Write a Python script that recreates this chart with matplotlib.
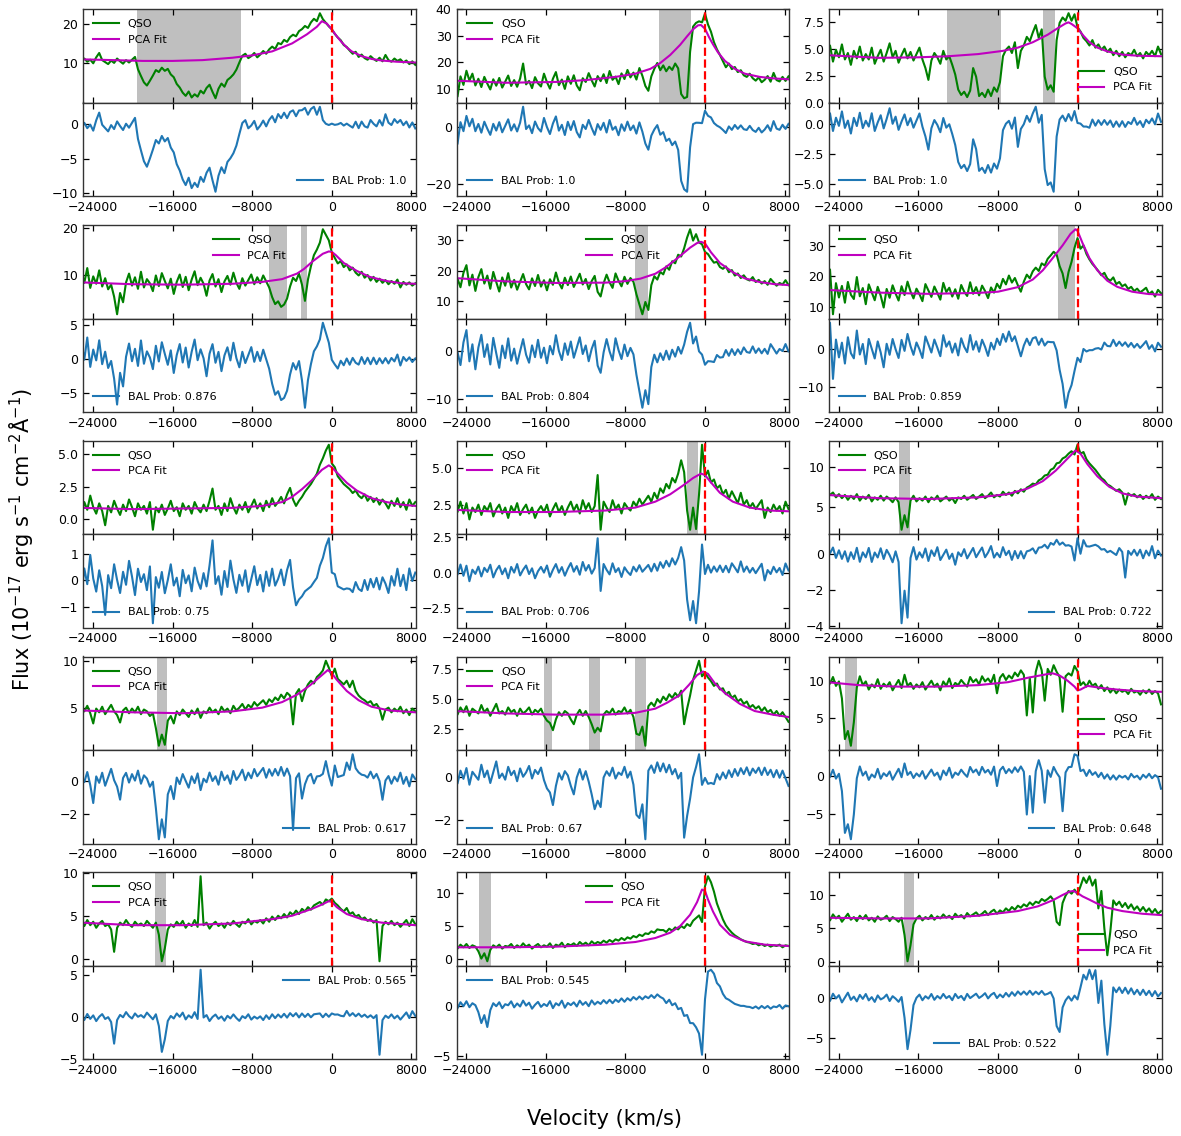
import numpy as np
import matplotlib
matplotlib.use("Agg")
import matplotlib.pyplot as plt

# Velocity grid of the spectra (km/s)
velocity = np.arange(-25200, 8401, 300)

# ---- Panel 1 ----
qso_1 = [10.6, 11.2, 10.4, 10.9, 10.0, 11.5, 12.6, 10.8, 10.3, 9.8,
         10.7, 10.1, 11.2, 10.5, 9.9, 10.8, 10.2, 10.9, 11.6, 8.5,
         6.8, 5.2, 4.4, 5.6, 6.9, 8.3, 7.8, 8.9, 8.1, 8.6,
         7.2, 6.5, 4.8, 3.9, 2.6, 1.8, 2.9, 1.4, 2.2, 1.6,
         3.1, 2.4, 3.8, 4.6, 2.8, 1.2, 3.6, 4.9, 4.1, 5.8,
         6.4, 7.2, 8.4, 10.2, 11.9, 12.4, 11.3, 11.8, 12.6, 11.5,
         12.2, 13.1, 12.4, 13.5, 14.2, 13.6, 15.1, 14.8, 15.9, 15.4,
         16.6, 17.2, 16.8, 18.1, 18.6, 19.4, 18.9, 20.3, 21.2, 20.6,
         22.6, 21.1, 20.2, 19.3, 18.6, 17.4, 16.5, 15.8, 14.6, 14.1,
         13.2, 12.4, 12.9, 11.6, 12.2, 11.3, 10.9, 11.8, 11.1, 10.6,
         11.4, 10.5, 12.1, 10.8, 10.4, 11.2, 10.6, 11.0, 10.2, 10.7,
         9.8, 10.5, 9.6]
fit_v_1 = [-25200, -22000, -19000, -16000, -13000, -10000, -8000, -6000, -4000, -2500,
           -1500, -1000, -500, 0, 500, 1000, 1500, 2000, 3000, 4000, 5000, 6500, 8400]
fit_1 = [11.0, 10.8, 10.6, 10.6, 10.8, 11.4, 12.0, 13.0, 15.0, 17.3,
         19.2, 20.6, 20.0, 18.5, 16.8, 15.3, 14.0, 13.0, 11.8, 11.1, 10.7, 10.4, 10.2]
bal_1 = [(-19600, -9100)]
prob_1 = "1.0"

# ---- Panel 2 ----
qso_2 = [12.5, 7.2, 14.8, 11.6, 16.9, 13.2, 15.8, 11.4, 13.9, 10.8,
         14.6, 12.1, 9.9, 13.7, 11.3, 14.2, 10.6, 12.8, 15.1, 11.2,
         13.4, 10.9, 14.0, 19.6, 11.8, 13.1, 10.4, 14.5, 12.2, 11.0,
         15.8, 12.6, 10.2, 13.9, 16.4, 11.5, 13.6, 10.1, 14.8, 12.0,
         15.2, 11.4, 9.6, 14.1, 12.7, 16.0, 13.3, 11.0, 14.9, 13.0,
         15.6, 12.3, 16.8, 13.5, 14.7, 11.9, 15.9, 13.8, 17.2, 14.4,
         16.2, 13.6, 17.9, 15.0, 11.2, 9.4, 14.8, 17.6, 19.8, 17.1,
         18.9, 16.7, 18.4, 17.2, 19.6, 17.8, 8.2, 6.6, 7.1, 24.0,
         33.4, 34.8, 35.4, 35.0, 38.3, 34.2, 31.5, 27.6, 24.9, 22.8,
         20.5, 18.2, 19.6, 17.5, 18.3, 16.4, 17.1, 15.2, 14.6, 15.8,
         14.1, 13.2, 14.4, 12.6, 13.5, 14.9, 12.8, 16.1, 13.4, 12.9,
         14.6, 13.1, 14.8]
fit_v_2 = [-25200, -20000, -15000, -12000, -9000, -7000, -5500, -4500, -3500, -2500,
           -1800, -1200, -700, -400, 0, 400, 800, 1300, 2000, 3000, 4000, 5500, 7000, 8400]
fit_2 = [13.2, 12.4, 12.7, 13.4, 14.6, 15.8, 17.6, 19.8, 22.8, 26.6,
         29.8, 32.4, 33.9, 34.0, 32.6, 29.5, 26.8, 23.8, 20.6, 17.6, 15.8, 14.6, 14.0, 13.7]
bal_2 = [(-4600, -1450)]
prob_2 = "1.0"

# ---- Panel 3 ----
qso_3 = [4.6, 5.3, 3.8, 4.9, 4.2, 5.4, 4.0, 4.6, 3.5, 4.8,
         4.1, 5.2, 3.9, 4.5, 4.0, 5.1, 3.6, 4.3, 4.9, 3.8,
         4.6, 5.5, 4.2, 4.8, 3.7, 4.4, 5.0, 4.1, 4.7, 3.9,
         4.5, 5.1, 4.0, 3.2, 2.1, 3.9, 4.6, 4.2, 3.6, 4.8,
         4.0, 4.3, 3.5, 2.6, 1.2, 0.7, 1.0, 0.5, 1.1, 3.2,
         2.4, 0.6, 0.9, 0.5, 1.2, 0.6, 1.4, 1.0, 1.9, 4.3,
         4.9, 5.2, 4.6, 5.6, 3.2, 4.8, 5.3, 6.1, 5.7, 6.5,
         7.2, 6.0, 6.8, 2.4, 1.2, 1.6, 1.0, 5.8, 7.4, 7.9,
         7.6, 8.3, 7.6, 8.2, 7.0, 6.6, 6.0, 5.7, 5.3, 5.8,
         5.1, 5.4, 4.9, 5.2, 4.7, 5.0, 4.4, 4.8, 4.3, 4.7,
         4.2, 4.6, 4.4, 4.9, 4.3, 4.6, 4.1, 4.7, 4.4, 4.8,
         4.3, 5.2, 4.5]
fit_v_3 = [-25200, -20000, -16000, -13000, -10000, -7500, -6000, -4500, -3000, -2000,
           -1200, -900, -600, 0, 600, 1200, 2000, 3000, 4500, 6000, 8400]
fit_3 = [4.4, 4.15, 4.2, 4.3, 4.5, 4.8, 5.1, 5.6, 6.3, 6.9,
         7.35, 7.45, 7.3, 6.9, 6.2, 5.6, 5.1, 4.75, 4.45, 4.35, 4.3]
bal_3 = [(-13150, -7680), (-3520, -2250)]
prob_3 = "1.0"

# ---- Panel 4 ----
qso_4 = [10.8, 8.2, 11.4, 7.1, 9.6, 8.0, 10.9, 7.4, 9.2, 6.8,
         7.8, 5.2, 1.4, 6.0, 4.0, 8.3, 10.2, 7.6, 9.4, 6.9,
         10.6, 7.2, 9.0, 8.1, 6.4, 9.8, 7.5, 10.3, 8.6, 7.0,
         9.1, 5.8, 8.4, 10.0, 7.3, 9.5, 6.6, 8.9, 10.7, 7.7,
         9.3, 8.0, 5.4, 8.7, 10.1, 7.4, 9.0, 6.2, 8.5, 9.7,
         7.8, 10.4, 8.2, 6.9, 9.2, 7.6, 8.8, 10.0, 7.9, 9.4,
         8.1, 9.8, 8.5, 7.2, 5.1, 3.6, 4.2, 3.0, 3.5, 4.8,
         7.4, 9.3, 8.6, 10.2, 7.8, 4.3, 8.9, 11.8, 14.2, 15.4,
         16.9, 19.8, 18.6, 17.4, 14.8, 13.6, 12.4, 12.9, 11.6, 12.2,
         10.9, 11.5, 10.4, 9.8, 10.6, 9.3, 9.9, 8.7, 9.5, 8.4,
         9.1, 8.2, 8.8, 7.9, 8.6, 8.0, 8.9, 7.2, 8.4, 7.8,
         8.3, 7.6, 8.1]
fit_v_4 = [-25200, -20000, -15000, -10000, -7000, -5000, -3500, -2800, -1900, -900,
           -300, 0, 400, 1200, 2500, 3800, 5500, 7000, 8400]
fit_4 = [8.3, 7.9, 7.8, 8.0, 8.4, 9.0, 10.2, 11.2, 12.9, 14.5,
         15.0, 14.9, 14.2, 12.5, 10.8, 9.5, 8.6, 8.1, 8.0]
bal_4 = [(-6330, -4490), (-3110, -2510)]
prob_4 = "0.876"

# ---- Panel 5 ----
qso_5 = [12.2, 17.4, 14.6, 19.3, 21.8, 15.2, 18.7, 13.4, 17.9, 20.5,
         15.8, 18.4, 14.1, 19.6, 16.3, 13.2, 17.8, 15.1, 19.2, 14.5,
         17.0, 13.8, 16.4, 18.9, 15.6, 13.9, 17.5, 15.0, 18.6, 14.8,
         16.9, 13.6, 17.2, 15.4, 19.4, 16.1, 14.2, 17.7, 15.3, 18.1,
         14.7, 16.8, 19.0, 15.5, 17.3, 14.0, 16.6, 18.3, 13.1, 11.6,
         15.9, 18.7, 16.2, 14.4, 19.1, 16.7, 14.9, 18.0, 15.7, 17.6,
         16.4, 12.3, 9.0, 5.8, 9.8, 7.2, 15.3, 18.2, 17.1, 19.6,
         18.8, 21.4, 20.3, 23.1, 22.4, 25.2, 24.6, 27.3, 30.8, 33.5,
         29.8, 31.9, 29.2, 28.6, 26.1, 25.4, 23.9, 22.6, 22.9, 21.2,
         20.6, 21.4, 19.5, 20.2, 18.4, 19.1, 17.6, 18.5, 17.2, 16.8,
         17.9, 16.3, 17.0, 15.8, 16.6, 15.4, 17.3, 16.2, 15.1, 16.0,
         15.5, 16.9, 15.3]
fit_v_5 = [-25200, -20000, -15000, -10000, -8000, -6500, -5000, -4000, -2800, -1500,
           -800, -400, 0, 600, 1500, 2800, 4000, 5500, 7000, 8400]
fit_5 = [17.6, 16.5, 16.0, 16.1, 16.6, 17.4, 19.0, 21.0, 24.0, 27.5,
         29.0, 29.4, 28.9, 26.0, 22.5, 19.5, 17.5, 16.3, 15.6, 15.3]
bal_5 = [(-7080, -5700)]
prob_5 = "0.804"

# ---- Panel 6 ----
qso_6 = [15.2, 22.3, 7.6, 17.8, 13.1, 16.9, 11.4, 18.2, 14.0, 12.6,
         19.8, 13.5, 16.2, 10.9, 17.4, 14.8, 12.2, 16.6, 13.7, 9.8,
         15.9, 13.0, 17.1, 14.4, 12.1, 16.8, 13.9, 18.3, 15.1, 12.8,
         16.0, 14.2, 11.9, 17.5, 15.4, 13.3, 16.7, 14.6, 12.4, 17.9,
         14.9, 16.3, 13.4, 15.8, 12.7, 17.2, 15.0, 13.6, 18.1, 14.3,
         16.5, 13.8, 17.0, 15.2, 12.9, 16.4, 14.7, 17.6, 16.1, 19.2,
         17.4, 20.3, 18.0, 19.5, 17.1, 15.0, 18.3, 20.6, 19.4, 21.7,
         22.9, 21.8, 24.3, 23.6, 25.8, 26.9, 28.1, 27.2, 23.4, 21.0,
         16.2, 21.5, 24.8, 29.4, 32.6, 29.1, 30.2, 27.4, 25.6, 24.1,
         23.0, 21.8, 20.4, 21.2, 19.3, 18.6, 19.7, 17.5, 18.2, 16.8,
         17.4, 15.9, 16.6, 15.2, 16.0, 14.8, 15.5, 16.3, 14.2, 15.1,
         13.4, 15.6, 14.5]
fit_v_6 = [-25200, -20000, -15000, -10000, -8000, -6000, -4500, -3500, -2500, -1500,
           -700, -200, 0, 500, 1200, 2000, 3000, 4000, 5500, 7000, 8400]
fit_6 = [15.6, 14.7, 14.3, 14.6, 15.0, 16.5, 19.0, 22.0, 26.0, 30.2,
         34.0, 35.5, 35.0, 31.0, 26.0, 22.0, 18.6, 16.6, 15.0, 14.3, 14.0]
bal_6 = [(-2010, -270)]
prob_6 = "0.859"

# ---- Panel 7 ----
qso_7 = [0.2, 1.3, 0.7, 1.8, 0.9, 0.4, 1.2, 0.6, -0.5, 1.0,
         0.5, 1.4, 0.8, 0.3, 1.1, 0.6, 1.5, 0.9, 0.2, 1.2,
         0.7, 1.0, 0.4, 1.3, -0.85, 0.9, 0.5, 1.1, 0.3, 0.8,
         1.4, 0.6, 0.9, 0.2, 1.2, 0.7, 1.0, 0.4, 1.3, 0.8,
         0.5, 1.1, 0.6, 1.4, 2.35, 0.7, 1.0, 0.3, 1.2, 0.6,
         1.6, 0.9, 0.4, 1.1, 0.7, 1.3, 0.5, 1.0, 1.5, 0.8,
         1.2, 0.6, 1.4, 0.9, 1.6, 1.0, 1.3, 1.7, 1.2, 1.9,
         2.4, 1.5, 1.0, 1.4, 1.7, 2.1, 2.4, 2.7, 3.1, 3.5,
         4.2, 4.7, 5.3, 5.75, 4.3, 4.0, 3.3, 3.0, 2.7, 2.5,
         2.3, 2.0, 2.2, 1.8, 1.6, 1.9, 1.4, 1.7, 1.3, 1.6,
         1.1, 1.5, 1.2, 0.8, 1.4, 1.0, 1.6, 0.9, 1.3, 0.7,
         1.5, 1.0, 1.3]
fit_v_7 = [-25200, -20000, -15000, -10000, -7000, -5000, -4000, -3000, -2000, -1000,
           -300, 0, 500, 1500, 2500, 4000, 5500, 7000, 8400]
fit_7 = [0.85, 0.75, 0.8, 0.85, 1.0, 1.3, 1.7, 2.3, 3.0, 3.8,
         4.15, 4.0, 3.6, 2.8, 2.2, 1.6, 1.3, 1.1, 1.0]
bal_7 = []
prob_7 = "0.75"

# ---- Panel 8 ----
qso_8 = [2.3, 2.0, 2.7, 1.9, 2.6, 1.5, 2.3, 2.0, 2.5, 1.8,
         2.4, 2.1, 2.6, 1.7, 2.2, 2.5, 1.9, 2.3, 1.6, 2.4,
         2.0, 2.6, 1.8, 2.2, 2.5, 1.9, 2.3, 1.6, 2.1, 2.4,
         2.0, 2.5, 1.7, 2.2, 2.6, 2.0, 2.4, 1.8, 2.3, 2.7,
         2.1, 2.5, 1.9, 2.8, 2.2, 2.6, 2.0, 2.4, 4.5, 0.8,
         2.7, 2.3, 2.0, 2.8, 2.2, 2.5, 1.9, 2.6, 2.3, 2.1,
         2.7, 2.4, 2.9, 2.5, 2.8, 3.1, 2.7, 3.3, 2.9, 3.6,
         3.3, 3.9, 3.6, 4.3, 4.0, 4.6, 5.5, 4.7, 2.1, 0.8,
         2.3, 0.85, 3.2, 6.55, 4.4, 4.8, 4.0, 4.2, 3.6, 3.8,
         3.2, 3.5, 2.9, 3.4, 3.0, 2.6, 3.3, 2.5, 2.8, 2.3,
         2.6, 2.2, 2.5, 2.8, 1.6, 2.3, 2.0, 2.5, 2.1, 2.4,
         1.9, 2.7, 2.2]
fit_v_8 = [-25200, -20000, -15000, -10000, -7000, -5000, -3500, -2200, -1200, -400,
           0, 600, 1500, 2800, 4500, 6500, 8400]
fit_8 = [2.15, 2.0, 2.0, 2.1, 2.3, 2.7, 3.2, 3.8, 4.3, 4.6,
         4.5, 4.0, 3.3, 2.7, 2.3, 2.1, 2.05]
bal_8 = [(-1850, -670)]
prob_8 = "0.706"

# ---- Panel 9 ----
qso_9 = [7.0, 6.5, 6.8, 6.2, 6.6, 6.1, 6.5, 5.9, 6.4, 6.0,
         6.6, 5.8, 6.3, 6.0, 6.5, 5.7, 6.2, 5.9, 6.4, 5.8,
         6.3, 6.0, 5.6, 6.2, 5.6, 2.2, 4.0, 2.5, 5.8, 6.4,
         5.7, 6.1, 5.8, 6.3, 5.6, 6.2, 5.9, 6.4, 5.7, 6.0,
         6.3, 5.8, 6.1, 5.5, 6.2, 6.0, 6.4, 5.9, 6.2, 6.5,
         6.0, 6.3, 6.6, 6.1, 6.4, 6.8, 6.2, 6.5, 6.3, 6.9,
         6.5, 6.8, 6.4, 7.0, 6.7, 7.2, 6.9, 7.4, 7.6, 7.9,
         7.8, 8.3, 8.5, 8.9, 9.0, 9.6, 9.8, 10.4, 10.5, 11.0,
         11.2, 11.6, 11.9, 11.5, 12.7, 11.6, 11.8, 10.9, 10.4, 10.0,
         9.6, 9.1, 8.6, 8.3, 7.8, 7.6, 7.3, 7.0, 7.2, 6.8,
         5.3, 6.7, 6.4, 6.6, 6.2, 6.5, 6.0, 6.4, 6.1, 6.6,
         5.9, 6.3, 6.0]
fit_v_9 = [-25200, -20000, -15000, -10000, -7000, -5000, -3500, -2200, -1000, -200,
           300, 1000, 2000, 3200, 4500, 6000, 8400]
fit_9 = [6.5, 6.1, 6.0, 6.2, 6.6, 7.3, 8.2, 9.5, 11.0, 12.0,
         11.6, 10.3, 8.8, 7.5, 6.7, 6.3, 6.1]
bal_9 = [(-18000, -16870)]
prob_9 = "0.722"

# ---- Panel 10 ----
qso_10 = [5.0, 4.6, 5.2, 4.4, 3.3, 4.9, 4.5, 5.1, 4.3, 4.8,
          5.3, 4.6, 4.2, 3.4, 4.7, 5.0, 4.4, 4.9, 4.5, 5.1,
          4.3, 4.8, 4.6, 4.1, 4.4, 2.8, 0.9, 2.1, 1.0, 3.6,
          4.1, 3.3, 4.6, 4.2, 4.8, 4.4, 4.0, 4.7, 4.3, 4.9,
          3.9, 4.6, 4.4, 5.0, 4.5, 4.8, 4.3, 5.1, 4.6, 4.9,
          4.4, 5.2, 4.7, 5.0, 5.4, 4.8, 5.3, 5.0, 5.6, 5.2,
          5.5, 5.8, 5.3, 5.9, 5.6, 6.1, 5.8, 6.4, 6.0, 6.6,
          6.3, 3.2, 6.5, 7.0, 5.7, 6.8, 7.5, 7.9, 7.6, 8.3,
          8.6, 9.0, 10.05, 9.3, 8.4, 9.2, 8.1, 7.8, 7.5, 7.9,
          7.2, 7.9, 6.8, 6.3, 6.0, 5.8, 5.5, 5.7, 5.2, 5.4,
          4.9, 3.7, 4.8, 5.0, 4.5, 4.9, 4.6, 5.1, 4.4, 4.8,
          4.2, 4.9, 4.6]
fit_v_10 = [-25200, -20000, -15000, -10000, -7000, -5000, -3500, -2200, -1000, -400,
            0, 500, 1500, 2700, 4000, 5800, 8400]
fit_10 = [4.7, 4.5, 4.4, 4.6, 5.0, 5.6, 6.4, 7.4, 8.5, 9.05,
          8.7, 8.0, 6.8, 5.8, 5.1, 4.7, 4.5]
bal_10 = [(-17540, -16535)]
prob_10 = "0.617"

# ---- Panel 11 ----
qso_11 = [4.1, 3.7, 4.3, 3.9, 4.4, 3.6, 4.2, 4.0, 3.8, 4.5,
          3.9, 4.2, 3.6, 4.1, 4.6, 3.8, 4.0, 3.7, 4.3, 3.9,
          4.1, 3.6, 4.2, 3.8, 4.0, 4.3, 3.7, 4.1, 3.9, 4.2,
          3.6, 3.2, 3.0, 2.4, 3.3, 3.9, 3.6, 4.0, 3.8, 3.3,
          2.9, 3.7, 4.1, 3.6, 4.0, 3.5, 2.9, 2.2, 2.6, 2.3,
          3.7, 4.0, 3.8, 4.2, 3.7, 4.0, 3.9, 4.3, 3.8, 4.1,
          3.5, 2.1, 2.0, 2.7, 1.1, 4.4, 4.7, 4.4, 5.0, 4.7,
          5.2, 4.9, 5.4, 5.1, 5.5, 5.2, 5.7, 2.9, 4.2, 5.3,
          6.6, 7.4, 8.2, 6.9, 7.2, 6.8, 6.5, 6.1, 6.3, 5.8,
          5.9, 5.4, 5.6, 5.1, 5.3, 4.8, 5.0, 4.6, 4.8, 4.3,
          4.5, 4.2, 4.4, 4.0, 4.3, 3.9, 4.1, 3.7, 4.0, 3.6,
          3.9, 3.5, 3.1]
fit_v_11 = [-25200, -20000, -15000, -10000, -7000, -5000, -3800, -2600, -1600, -800,
            -200, 300, 1000, 2000, 3500, 5000, 6800, 8400]
fit_11 = [4.0, 3.8, 3.7, 3.7, 3.85, 4.2, 4.7, 5.3, 6.2, 7.0,
          7.3, 7.1, 6.3, 5.5, 4.6, 4.0, 3.7, 3.5]
bal_11 = [(-16185, -15345), (-11650, -10610), (-7050, -5975)]
prob_11 = "0.67"

# ---- Panel 12 ----
qso_12 = [10.2, 9.6, 10.5, 9.3, 9.9, 7.6, 2.1, 3.2, 1.2, 4.4,
          9.1, 10.6, 9.4, 9.9, 8.8, 9.5, 9.1, 10.2, 8.9, 9.6,
          9.2, 9.8, 8.7, 9.4, 10.1, 9.0, 10.8, 9.3, 9.7, 8.9,
          9.5, 9.1, 9.8, 8.8, 9.4, 10.0, 9.2, 9.6, 8.7, 9.9,
          9.3, 10.3, 9.0, 9.7, 9.4, 10.1, 9.6, 9.2, 10.5, 9.8,
          10.2, 9.5, 10.6, 9.9, 10.3, 9.7, 10.8, 8.3, 10.4, 10.9,
          10.1, 10.7, 10.3, 11.1, 10.6, 11.4, 10.8, 5.3, 10.4, 5.7,
          11.2, 12.7, 11.4, 7.3, 11.6, 10.8, 12.1, 11.2, 10.5, 5.8,
          10.6, 11.0, 10.7, 12.0, 11.3, 9.4, 9.8, 9.2, 10.0, 9.3,
          9.6, 8.9, 9.4, 8.6, 9.1, 8.4, 8.9, 8.3, 8.8, 8.5,
          8.7, 8.2, 8.9, 8.4, 8.6, 8.1, 8.7, 8.3, 8.8, 8.2,
          8.6, 8.3, 6.8]
fit_v_12 = [-25200, -22000, -18000, -14000, -10000, -7000, -5000, -3000, -2500, -1800,
            -1000, -300, 0, 300, 1000, 2500, 4000, 6000, 8400]
fit_12 = [9.8, 9.4, 9.2, 9.2, 9.4, 9.8, 10.4, 10.9, 11.0, 10.7,
          10.0, 9.2, 8.7, 8.8, 9.3, 9.0, 8.8, 8.6, 8.5]
bal_12 = [(-23410, -22200)]
prob_12 = "0.648"

# ---- Panel 13 ----
qso_13 = [4.2, 3.8, 4.5, 3.9, 4.3, 3.6, 4.1, 4.4, 3.8, 4.0,
          3.4, 0.8, 3.6, 4.2, 3.9, 4.5, 4.0, 3.7, 4.3, 3.9,
          4.1, 3.8, 4.4, 4.0, 3.6, 4.2, 2.8, -0.3, 1.2, 3.4,
          4.0, 3.7, 4.3, 3.9, 4.4, 3.6, 4.1, 3.8, 4.5, 3.7,
          9.6, 3.9, 4.2, 3.5, 4.0, 4.3, 3.8, 4.1, 3.6, 4.2,
          3.9, 4.4, 4.0, 3.7, 4.3, 4.1, 4.6, 4.0, 4.4, 4.2,
          4.5, 4.1, 4.7, 4.3, 4.9, 4.5, 5.0, 4.7, 5.2, 4.8,
          5.4, 5.1, 5.6, 5.2, 5.8, 5.5, 6.0, 5.7, 6.2, 6.4,
          6.6, 6.3, 6.9, 6.7, 7.0, 6.5, 6.2, 5.8, 5.5, 5.9,
          5.2, 5.4, 4.9, 5.1, 4.6, 4.8, 4.4, 4.6, 4.2, 4.5,
          -0.3, 3.8, 4.3, 4.0, 4.4, 3.9, 4.2, 3.7, 4.1, 4.5,
          3.8, 4.6, 4.0]
fit_v_13 = [-25200, -20000, -15000, -10000, -6000, -4000, -2000, -1000, -300, 0,
            500, 1500, 3000, 5000, 8400]
fit_13 = [4.2, 3.9, 3.9, 4.1, 4.6, 5.0, 5.8, 6.3, 6.7, 6.6,
          6.0, 5.2, 4.6, 4.2, 3.9]
bal_13 = [(-17770, -16660)]
prob_13 = "0.565"

# ---- Panel 14 ----
qso_14 = [2.0, 1.6, 2.2, 1.8, 2.3, 1.7, 2.1, 1.9, 1.2, 0.1,
          0.9, -0.3, 1.4, 2.1, 1.8, 2.2, 1.6, 2.0, 1.9, 2.3,
          1.7, 2.1, 1.8, 2.4, 1.9, 2.2, 1.6, 2.0, 2.3, 1.8,
          2.1, 1.9, 2.4, 1.7, 2.2, 2.0, 2.5, 1.8, 2.3, 2.1,
          2.4, 2.0, 2.6, 2.2, 2.5, 2.1, 2.7, 2.3, 2.6, 2.4,
          2.8, 2.5, 2.9, 2.6, 3.0, 2.8, 3.2, 2.9, 3.3, 3.1,
          3.5, 3.3, 3.7, 3.5, 3.9, 3.8, 4.2, 4.0, 4.5, 4.4,
          4.4, 4.1, 4.6, 4.3, 4.8, 4.5, 5.0, 4.7, 5.3, 5.0,
          5.8, 6.2, 6.6, 5.6, 11.0, 12.5, 11.6, 10.2, 8.4, 7.2,
          6.0, 5.1, 4.5, 4.0, 3.6, 3.3, 3.0, 2.8, 2.6, 2.5,
          2.3, 2.4, 2.1, 2.3, 2.0, 2.2, 1.9, 2.1, 2.0, 2.2,
          1.8, 2.1, 2.0]
fit_v_14 = [-25200, -20000, -15000, -10000, -7000, -5000, -3500, -2500, -1500, -800,
            -300, 0, 300, 800, 1500, 2500, 4000, 6000, 8400]
fit_14 = [1.8, 1.8, 1.9, 2.2, 2.6, 3.2, 4.0, 5.0, 6.7, 8.6,
          10.5, 10.3, 9.0, 7.2, 5.2, 3.7, 2.7, 2.2, 2.0]
bal_14 = [(-22770, -21560)]
prob_14 = "0.545"

# ---- Panel 15 ----
qso_15 = [6.8, 6.2, 7.1, 6.5, 6.9, 6.0, 6.6, 7.2, 6.3, 6.7,
          6.1, 6.9, 6.4, 7.0, 6.2, 6.6, 6.0, 6.8, 6.3, 6.5,
          6.9, 6.1, 6.7, 6.4, 6.0, 6.6, 4.0, 0.1, 2.5, 5.6,
          6.5, 6.9, 6.2, 6.7, 6.4, 7.0, 6.3, 6.8, 6.5, 7.1,
          6.6, 6.9, 6.4, 7.2, 6.7, 7.0, 6.5, 7.3, 6.8, 7.1,
          7.4, 6.9, 7.2, 7.6, 7.0, 7.5, 7.8, 7.2, 7.7, 7.4,
          8.0, 7.6, 8.2, 7.8, 8.4, 8.1, 8.6, 8.3, 8.9, 8.5,
          9.0, 8.8, 9.4, 9.1, 9.4, 9.8, 9.2, 6.0, 5.5, 8.8,
          9.9, 10.6, 10.2, 10.8, 10.1, 11.3, 12.6, 11.8, 12.8, 11.4,
          12.3, 8.0, 10.6, 5.0, 1.0, 4.5, 9.2, 8.5, 9.0, 8.2,
          8.8, 8.0, 8.6, 7.8, 8.3, 7.6, 8.2, 7.5, 8.0, 7.3,
          7.9, 7.2, 7.6]
fit_v_15 = [-25200, -20000, -15000, -10000, -6000, -4000, -2500, -1500, -800, -400,
            0, 500, 1200, 2000, 3000, 4500, 6500, 8400]
fit_15 = [6.6, 6.5, 6.5, 6.9, 7.6, 8.3, 9.2, 10.0, 10.5, 10.6,
          10.3, 9.8, 9.3, 8.7, 8.1, 7.6, 7.2, 7.0]
bal_15 = [(-17480, -16470)]
prob_15 = "0.522"

panels = [
    (qso_1, fit_v_1, fit_1, bal_1, prob_1),
    (qso_2, fit_v_2, fit_2, bal_2, prob_2),
    (qso_3, fit_v_3, fit_3, bal_3, prob_3),
    (qso_4, fit_v_4, fit_4, bal_4, prob_4),
    (qso_5, fit_v_5, fit_5, bal_5, prob_5),
    (qso_6, fit_v_6, fit_6, bal_6, prob_6),
    (qso_7, fit_v_7, fit_7, bal_7, prob_7),
    (qso_8, fit_v_8, fit_8, bal_8, prob_8),
    (qso_9, fit_v_9, fit_9, bal_9, prob_9),
    (qso_10, fit_v_10, fit_10, bal_10, prob_10),
    (qso_11, fit_v_11, fit_11, bal_11, prob_11),
    (qso_12, fit_v_12, fit_12, bal_12, prob_12),
    (qso_13, fit_v_13, fit_13, bal_13, prob_13),
    (qso_14, fit_v_14, fit_14, bal_14, prob_14),
    (qso_15, fit_v_15, fit_15, bal_15, prob_15),
]

# Legend placement and y ticks for each spectrum (top) and residual (bottom)
top_loc = ['upper left', 'upper left', 'lower right',
           'upper center', 'upper center', 'upper left',
           'upper left', 'upper left', 'upper left',
           'upper left', 'upper left', 'lower right',
           'upper left', 'upper center', 'lower right']
bot_loc = ['lower right', 'lower left', 'lower left',
           'lower left', 'lower left', 'lower left',
           'lower left', 'lower left', 'lower right',
           'lower right', 'lower left', 'lower right',
           'upper right', 'upper left', 'lower center']
top_ticks = [[10, 20], [10, 20, 30, 40], [0, 2.5, 5, 7.5],
             [10, 20], [10, 20, 30], [10, 20, 30],
             [0, 2.5, 5], [2.5, 5], [5, 10],
             [5, 10], [2.5, 5, 7.5], [5, 10],
             [0, 5, 10], [0, 5, 10], [0, 5, 10]]
bot_ticks = [[-10, -5, 0], [-20, 0], [-5, -2.5, 0],
             [-5, 0, 5], [-10, 0], [-10, 0],
             [-1, 0, 1], [-2.5, 0, 2.5], [-4, -2, 0],
             [-2, 0], [-2, 0], [-5, 0],
             [-5, 0, 5], [-5, 0], [-5, 0]]

W, H = 1181, 1136
fig = plt.figure(figsize=(W / 100, H / 100), dpi=100)

col_left = [83.3, 456.5, 829.0]
col_w = 332.7
row_top = [9.0, 225.0, 440.5, 656.5, 872.0]
ph = 93.5
xticks = [-24000, -16000, -8000, 0, 8000]


def style(ax):
    ax.tick_params(direction='in', top=True, right=True, length=4.5,
                   labelsize=9, width=0.9)
    for s in ax.spines.values():
        s.set_color('0.2')
        s.set_linewidth(1.0)


for k, (qso, fv, ff, bal, prob) in enumerate(panels):
    r, c = divmod(k, 3)
    qso = np.asarray(qso, dtype=float)
    resid = qso - np.interp(velocity, fv, ff)

    x0 = col_left[c] / W
    ax_t = fig.add_axes([x0, 1 - (row_top[r] + ph) / H, col_w / W, ph / H])
    ax_b = fig.add_axes([x0, 1 - (row_top[r] + 2 * ph) / H, col_w / W, ph / H])

    for lo, hi in bal:
        ax_t.axvspan(lo, hi, color='gray', alpha=0.5, lw=0, zorder=0)
    ax_t.plot(velocity, qso, color='green', lw=1.5, label='QSO')
    ax_t.plot(fv, ff, color='m', lw=1.5, label='PCA Fit')
    ax_t.axvline(0, color='red', ls='--', lw=1.6)
    ax_t.legend(loc=top_loc[k], frameon=False, fontsize=8, handlelength=2.3)

    ax_b.plot(velocity, resid, color='C0', lw=1.5, label=f'BAL Prob: {prob}')
    ax_b.legend(loc=bot_loc[k], frameon=False, fontsize=8, handlelength=2.3)

    for ax in (ax_t, ax_b):
        ax.set_xlim(-25000, 8470)
        ax.set_xticks(xticks)
        style(ax)
    ax_t.tick_params(labelbottom=False)
    ax_t.set_yticks(top_ticks[k])
    ax_b.set_yticks(bot_ticks[k])

fig.text(0.512, 0.015, 'Velocity (km/s)', ha='center', va='center', fontsize=15)
fig.text(0.0186, 0.5255,
         r'Flux ($10^{-17}$ erg s$^{-1}$ cm$^{-2}$$\mathrm{\AA}^{-1}$)',
         ha='center', va='center', rotation=90, fontsize=15)

fig.savefig('out.png', dpi=100)
